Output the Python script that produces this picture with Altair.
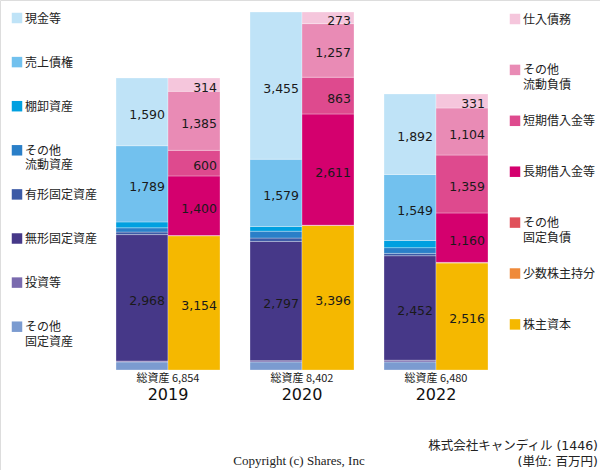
import altair as alt
import pandas as pd

# ---------------- data ----------------
years = ["2019", "2020", "2022"]
totals = [6854, 8402, 6480]

asset_cats = ["現金等", "売上債権", "棚卸資産", "その他\n流動資産", "有形固定資産",
              "無形固定資産", "投資等", "その他\n固定資産"]
cash = [1590, 3455, 1892]
receivables = [1789, 1579, 1549]
inventory = [137, 111, 167]
other_current = [100, 160, 135]
tangible = [60, 80, 55]
intangible = [2968, 2797, 2452]
investments = [20, 30, 40]
other_fixed = [190, 190, 190]

liab_cats = ["仕入債務", "その他\n流動負債", "短期借入金等", "長期借入金等",
             "その他\n固定負債", "少数株主持分", "株主資本"]
payables = [314, 273, 331]
other_current_liab = [1385, 1257, 1104]
short_debt = [600, 863, 1359]
long_debt = [1400, 2611, 1160]
other_fixed_liab = [1, 2, 10]
minority = [0, 0, 0]
equity = [3154, 3396, 2516]

asset_colors = ["#bfe3f7", "#72c1ee", "#00a0e0", "#2a7fc8", "#3c5aa6",
                "#463888", "#7a6aae", "#7b9bd0"]
liab_colors = ["#f5c6dc", "#e98bb5", "#de4a8e", "#d4006e", "#e0505a",
               "#ef8a3a", "#f5b800"]

asset_series = [cash, receivables, inventory, other_current, tangible,
                intangible, investments, other_fixed]
liab_series = [payables, other_current_liab, short_debt, long_debt,
               other_fixed_liab, minority, equity]

# ---------------- build tables ----------------
rows = []
for side, cats, series in [("A", asset_cats, asset_series), ("L", liab_cats, liab_series)]:
    for yi, yr in enumerate(years):
        base = 0
        # stack from the bottom: last category in the list is at the bottom
        for cat, vals in reversed(list(zip(cats, series))):
            v = vals[yi]
            rows.append({"year": yr, "side": side, "cat": cat, "value": v,
                         "start": base, "end": base + v, "mid": base + v / 2})
            base += v
df = pd.DataFrame(rows)

df_years = pd.DataFrame({"year": years, "total": totals})

leg_rows = []
for grp, cats in [("L", asset_cats), ("R", liab_cats)]:
    for i, c in enumerate(cats):
        parts = c.split("\n")
        leg_rows.append({"cat": c, "grp": grp, "i": i, "l1": parts[0],
                         "l2": parts[1] if len(parts) > 1 else ""})
df_leg = pd.DataFrame(leg_rows)

all_cats = asset_cats + liab_cats
all_colors = asset_colors + liab_colors

JP_FONT = "'DejaVu Sans', 'Noto Sans CJK JP'"

# ---------------- scales ----------------
xscale = alt.Scale(domain=years, range=[116, 488], paddingInner=30 / 134, paddingOuter=0)
xoff = alt.Scale(domain=["A", "L"], paddingInner=0, paddingOuter=0)
yscale = alt.Scale(domain=[0, 8402], range=[370, 12])
cscale = alt.Scale(domain=all_cats, range=all_colors)

X = alt.X("year:N", scale=xscale, axis=None)
XO = alt.XOffset("side:N", scale=xoff)

bars = alt.Chart(df).mark_bar(stroke="white", strokeWidth=0.3).encode(
    x=X, xOffset=XO,
    y=alt.Y("start:Q", scale=yscale, axis=None),
    y2="end:Q",
    color=alt.Color("cat:N", scale=cscale, legend=None),
)

labels = alt.Chart(df).transform_filter("datum.value >= 250").mark_text(
    align="right", baseline="middle", dx=23, dy=3, fontSize=12.5,
    font="DejaVu Sans", color="#1a1a1a"
).encode(
    x=X, xOffset=XO,
    y=alt.Y("mid:Q", scale=yscale, axis=None),
    text=alt.Text("value:Q", format=","),
)

tot_text = alt.Chart(df_years).transform_calculate(
    lab="'総資産 ' + format(datum.total, ',')"
).mark_text(baseline="middle", fontSize=11, font="Noto Sans CJK JP", color="#222").encode(
    x=X, y=alt.value(379), text="lab:N"
)

year_text = alt.Chart(df_years).mark_text(
    baseline="middle", fontSize=16, font="DejaVu Sans", color="#111"
).encode(x=X, y=alt.value(395), text="year:N")

leg_base = alt.Chart(df_leg).transform_calculate(
    lx="datum.grp == 'L' ? 17 : 515",
    ly="datum.grp == 'L' ? 18 + datum.i * 44.1 : 19 + datum.i * 50.9",
    tx="datum.grp == 'L' ? 25 : 523",
)

leg_sq = leg_base.mark_square(size=110, opacity=1).encode(
    x=alt.X("lx:Q", scale=None, axis=None),
    y=alt.Y("ly:Q", scale=None, axis=None),
    color=alt.Color("cat:N", scale=cscale, legend=None),
)

leg_tx1 = leg_base.transform_calculate(ty="datum.ly + 0.5").mark_text(
    align="left", baseline="middle", fontSize=12, font=JP_FONT, color="#222"
).encode(
    x=alt.X("tx:Q", scale=None, axis=None),
    y=alt.Y("ty:Q", scale=None, axis=None),
    text="l1:N",
)

leg_tx2 = leg_base.transform_filter("datum.l2 != ''").transform_calculate(
    ty="datum.ly + 15"
).mark_text(
    align="left", baseline="middle", fontSize=12, font=JP_FONT, color="#222"
).encode(
    x=alt.X("tx:Q", scale=None, axis=None),
    y=alt.Y("ty:Q", scale=None, axis=None),
    text="l2:N",
)

foot_df = pd.DataFrame({"t": ["株式会社キャンディル (1446)", "(単位: 百万円)"], "k": [0, 1]})
foot = alt.Chart(foot_df).transform_calculate(fy="446 + datum.k * 16").mark_text(
    align="right", baseline="middle", fontSize=12.5, font=JP_FONT, color="#222"
).encode(x=alt.value(598), y=alt.Y("fy:Q", scale=None, axis=None), text="t:N")

copy_df = pd.DataFrame({"t": ["Copyright (c) Shares, Inc"]})
copyright_txt = alt.Chart(copy_df).mark_text(
    align="center", baseline="middle", fontSize=13, font="Liberation Serif", color="#222"
).encode(x=alt.value(299), y=alt.value(461), text="t:N")

chart = alt.layer(bars, labels, tot_text, year_text, leg_sq, leg_tx1, leg_tx2, foot,
                  copyright_txt).properties(
    width=600, height=470,
    autosize=alt.AutoSizeParams(type="none"),
    padding=0,
).configure_view(stroke=None).configure(background="white")

chart.save("out.html", embed_options={"renderer": "svg", "actions": False})
